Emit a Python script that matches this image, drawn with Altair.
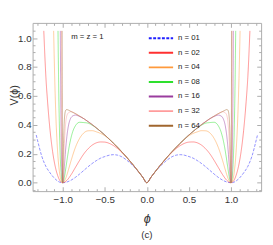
import altair as alt
import pandas as pd

labels = ["n = 01", "n = 02", "n = 04", "n = 08", "n = 16", "n = 32", "n = 64"]
colors = ["#2020ff", "#ff3030", "#ff9a3c", "#2ee02e", "#9a3c9e", "#ff9c9c", "#a0662e"]

# values (phi >= 0 half; the curves are symmetric in phi)
env_phi = [0, 0.05, 0.1, 0.15, 0.2, 0.25, 0.3, 0.35, 0.4, 0.45, 0.5, 0.55, 0.6, 0.65, 0.7, 0.75, 0.8, 0.85, 0.9]
env_v = [0, 0.039, 0.077, 0.114, 0.149, 0.183, 0.215, 0.246, 0.275, 0.303, 0.330, 0.355, 0.379, 0.402, 0.423, 0.443, 0.461, 0.478, 0.492]

phi_01 = [0, 0.05, 0.1, 0.15, 0.2, 0.25, 0.3, 0.35, 0.4, 0.45, 0.5, 0.55, 0.6, 0.65, 0.7, 0.75, 0.8, 0.85, 0.9, 0.95,
          1.0, 1.05, 1.1, 1.15, 1.2, 1.25, 1.3, 1.315]
v_01 = [0, 0.039, 0.076, 0.109, 0.137, 0.161, 0.180, 0.191, 0.194, 0.190, 0.181, 0.170, 0.153, 0.133, 0.110, 0.085, 0.060, 0.037, 0.018, 0.005,
        0, 0.008, 0.032, 0.068, 0.113, 0.185, 0.295, 0.33]

phi_02 = [0, 0.05, 0.1, 0.15, 0.2, 0.25, 0.3, 0.35, 0.4, 0.45, 0.5, 0.55, 0.6, 0.65, 0.7, 0.75, 0.8, 0.85, 0.9, 0.95,
          1.0, 1.03, 1.06, 1.09, 1.12, 1.15, 1.18, 1.2, 1.225]
v_02 = [0, 0.039, 0.077, 0.114, 0.148, 0.181, 0.211, 0.237, 0.258, 0.273, 0.281, 0.282, 0.276, 0.260, 0.234, 0.199, 0.154, 0.105, 0.056, 0.017,
        0, 0.012, 0.05, 0.115, 0.215, 0.36, 0.56, 0.73, 1.05]

phi_04 = [0, 0.05, 0.1, 0.15, 0.2, 0.25, 0.3, 0.35, 0.4, 0.45, 0.5, 0.55, 0.6, 0.65, 0.7, 0.75, 0.8, 0.85, 0.9, 0.93, 0.95, 0.97,
          1.0, 1.02, 1.04, 1.06, 1.08, 1.095, 1.108]
v_04 = [0, 0.039, 0.077, 0.114, 0.149, 0.183, 0.215, 0.246, 0.275, 0.302, 0.325, 0.341, 0.352, 0.360, 0.359, 0.344, 0.306, 0.243, 0.154, 0.094, 0.055, 0.023,
        0, 0.018, 0.08, 0.21, 0.44, 0.72, 1.05]

phi_08 = [0, 0.05, 0.1, 0.15, 0.2, 0.25, 0.3, 0.35, 0.4, 0.45, 0.5, 0.55, 0.6, 0.65, 0.7, 0.75, 0.8, 0.85, 0.88, 0.9, 0.92, 0.94, 0.96, 0.98, 0.99,
          1.0, 1.01, 1.02, 1.03, 1.04, 1.05, 1.056]
v_08 = [0, 0.039, 0.077, 0.114, 0.149, 0.183, 0.215, 0.246, 0.275, 0.303, 0.330, 0.355, 0.378, 0.398, 0.412, 0.416, 0.418, 0.393, 0.355, 0.314, 0.260, 0.191, 0.113, 0.038, 0.011,
        0, 0.016, 0.073, 0.193, 0.405, 0.75, 1.05]

phi_16 = [0, 0.05, 0.1, 0.15, 0.2, 0.25, 0.3, 0.35, 0.4, 0.45, 0.5, 0.55, 0.6, 0.65, 0.7, 0.75, 0.8,
          0.85, 0.87, 0.89, 0.91, 0.93, 0.95, 0.96, 0.97, 0.98, 0.99, 0.995,
          1.0, 1.005, 1.01, 1.015, 1.02, 1.025, 1.0285]
v_16 = [0, 0.039, 0.077, 0.114, 0.149, 0.183, 0.215, 0.246, 0.275, 0.303, 0.330, 0.355, 0.379, 0.402, 0.423, 0.443, 0.458,
        0.468, 0.465, 0.458, 0.440, 0.400, 0.323, 0.266, 0.195, 0.114, 0.038, 0.011,
        0, 0.015, 0.071, 0.19, 0.40, 0.74, 1.05]

phi_32 = env_phi + [0.92, 0.93, 0.94, 0.95, 0.96, 0.97, 0.975, 0.98, 0.985, 0.99, 0.995, 0.998,
                    1.0, 1.0025, 1.005, 1.0075, 1.01, 1.0125, 1.0142]
v_32 = env_v + [0.488, 0.485, 0.478, 0.466, 0.437, 0.376, 0.330, 0.271, 0.198, 0.116, 0.039, 0.0075,
                0, 0.016, 0.074, 0.196, 0.41, 0.77, 1.05]

phi_64 = env_phi + [0.92, 0.94, 0.95, 0.96, 0.97, 0.975, 0.98, 0.985, 0.99, 0.9925, 0.995, 0.9975, 0.999,
                    1.0, 1.00125, 1.0025, 1.00375, 1.005, 1.00625, 1.007]
v_64 = env_v + [0.499, 0.504, 0.506, 0.504, 0.492, 0.474, 0.440, 0.378, 0.271, 0.198, 0.116, 0.039, 0.0075,
                0, 0.016, 0.074, 0.196, 0.41, 0.77, 1.05]

x_major = [-1.0, -0.5, 0.0, 0.5, 1.0]
x_minor = [-1.3, -1.2, -1.1, -0.9, -0.8, -0.7, -0.6, -0.4, -0.3, -0.2, -0.1,
           0.1, 0.2, 0.3, 0.4, 0.6, 0.7, 0.8, 0.9, 1.1, 1.2, 1.3]
y_major = [0.0, 0.2, 0.4, 0.6, 0.8, 1.0]
y_minor = [-0.05, 0.05, 0.1, 0.15, 0.25, 0.3, 0.35, 0.45, 0.5, 0.55, 0.65, 0.7, 0.75, 0.85, 0.9, 0.95, 1.05]

note_phi = [-0.9]
note_v = [1.005]
note_text = ["m = z = 1"]

series = [(labels[0], phi_01, v_01), (labels[1], phi_02, v_02), (labels[2], phi_04, v_04),
          (labels[3], phi_08, v_08), (labels[4], phi_16, v_16), (labels[5], phi_32, v_32),
          (labels[6], phi_64, v_64)]
rows = []
for lab, ph, vv in series:
    for p, v in zip(ph, vv):
        rows.append({"phi": p, "V": v, "n": lab})
        if p != 0:
            rows.append({"phi": -p, "V": v, "n": lab})
df = pd.DataFrame(rows)
note_df = pd.DataFrame({"phi": note_phi, "V": note_v, "t": note_text})

FONT = "Liberation Sans"
GRAY = "#ababab"
xs = alt.Scale(domain=[-1.358, 1.358], nice=False, zero=False)
ys = alt.Scale(domain=[-0.058, 1.105], nice=False, zero=False)

legend = alt.Legend(orient="none", legendX=118.5, legendY=8.4, title=None, symbolType="stroke",
                    symbolSize=625, symbolStrokeWidth=2, symbolOpacity=1, labelFont=FONT,
                    labelFontSize=8, labelColor="#222", rowPadding=0, clipHeight=14.6,
                    labelOffset=4, padding=0)

curves = alt.Chart(df).mark_line(clip=True, opacity=0.5, strokeWidth=1.0, interpolate="monotone").encode(
    x=alt.X("phi:Q", scale=xs, axis=alt.Axis(orient="bottom", values=x_major, format=".1f", tickSize=4.5,
                                               offset=-4.5, domain=False, grid=False, tickColor=GRAY,
                                               labelFont=FONT, labelFontSize=10, labelColor="#333",
                                               labelPadding=4, title="ϕ", titleFont=FONT, titleFontSize=13,
                                               titleFontStyle="italic", titleFontWeight="normal",
                                               titleColor="#333", titlePadding=8)),
    y=alt.Y("V:Q", scale=ys, axis=alt.Axis(orient="left", values=y_major, format=".1f", tickSize=4.5,
                                            offset=-4.5, domain=False, grid=False, tickColor=GRAY,
                                            labelFont=FONT, labelFontSize=10, labelColor="#333",
                                            labelPadding=1.5, title="V(ϕ)", titleFont=FONT, titleFontSize=11,
                                            titleFontWeight="normal", titleColor="#333",
                                            titleX=-18, titleY=74)),
    color=alt.Color("n:N", scale=alt.Scale(domain=labels, range=colors), legend=legend),
    strokeDash=alt.StrokeDash("n:N", scale=alt.Scale(domain=labels,
                                                      range=[[3, 1.5], [1, 0], [1, 0], [1, 0], [1, 0], [1, 0], [1, 0]]),
                              legend=legend),
)


def tick_layer(xorient, yorient, xvals, yvals, size):
    return alt.Chart(note_df).mark_point(opacity=0, size=0).encode(
        x=alt.X("phi:Q", scale=xs, axis=alt.Axis(orient=xorient, values=xvals, tickSize=size, offset=-size,
                                                   domain=False, grid=False, labels=False, tickColor=GRAY,
                                                   title=None)),
        y=alt.Y("V:Q", scale=ys, axis=alt.Axis(orient=yorient, values=yvals, tickSize=size, offset=-size,
                                                domain=False, grid=False, labels=False, tickColor=GRAY,
                                                title=None)),
    )


minor_bl = tick_layer("bottom", "left", x_minor, y_minor, 2.5)
major_tr = tick_layer("top", "right", x_major, y_major, 4.5)
minor_tr = tick_layer("top", "right", x_minor, y_minor, 2.5)

note = alt.Chart(note_df).mark_text(align="left", baseline="middle", font=FONT, fontSize=8, color="#222").encode(
    x=alt.X("phi:Q", scale=xs, axis=None), y=alt.Y("V:Q", scale=ys, axis=None), text="t:N")

chart = alt.layer(curves, minor_bl, major_tr, minor_tr, note).resolve_axis(
    x="independent", y="independent"
).properties(
    width=235, height=173,
    autosize=alt.AutoSizeParams(type="none"),
    padding={"left": 25.3, "top": 12, "right": 4, "bottom": 50},
    title=alt.TitleParams("(c)", orient="bottom", font=FONT, fontSize=10, fontWeight="normal",
                          color="#333", offset=5),
).configure_view(stroke=GRAY, strokeWidth=1)

chart.save("out.html", embed_options={"renderer": "svg", "actions": False})
